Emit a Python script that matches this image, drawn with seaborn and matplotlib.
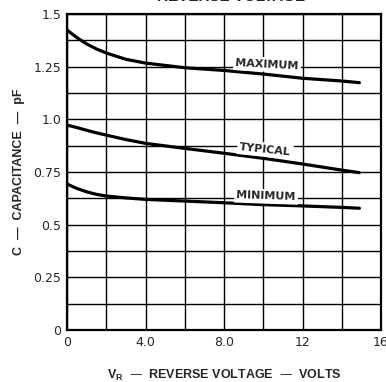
import numpy as np
import pandas as pd
import matplotlib
matplotlib.use("Agg")
import matplotlib.pyplot as plt
import seaborn as sns

# ---- data ----
voltage = [0, 0.5, 1, 1.5, 2, 3, 4, 6, 8, 10, 12, 14, 14.9]
cap_max = [1.424, 1.388, 1.358, 1.334, 1.315, 1.285, 1.267, 1.245, 1.232, 1.215, 1.195, 1.182, 1.174]
cap_typ = [0.973, 0.961, 0.948, 0.936, 0.925, 0.904, 0.886, 0.862, 0.839, 0.815, 0.788, 0.759, 0.747]
cap_min = [0.693, 0.672, 0.656, 0.644, 0.636, 0.627, 0.620, 0.612, 0.604, 0.595, 0.589, 0.582, 0.578]
series_names = ["MAXIMUM", "TYPICAL", "MINIMUM"]

x_ticks = [0, 4, 8, 12, 16]
x_ticklabels = ["0", "4.0", "8.0", "12", "16"]
y_ticks = [0, 0.25, 0.5, 0.75, 1.0, 1.25, 1.5]
y_ticklabels = ["0", "0.25", "0.5", "0.75", "1.0", "1.25", "1.5"]

df = pd.DataFrame({
    "V": voltage * 3,
    "C": cap_max + cap_typ + cap_min,
    "curve": [series_names[0]] * len(voltage) + [series_names[1]] * len(voltage)
             + [series_names[2]] * len(voltage),
})

sns.set_style("white")
plt.rcParams["font.family"] = ["Liberation Sans", "DejaVu Sans"]

fig = plt.figure(figsize=(3.86, 3.82), dpi=100)
ax = fig.add_axes([67 / 386, 1 - 330 / 382, (381 - 67) / 386, (330 - 14) / 382])

sns.lineplot(data=df, x="V", y="C", units="curve", estimator=None,
             color="black", linewidth=2.3, ax=ax, legend=False, zorder=3)

ax.set_xlim(0, 16)
ax.set_ylim(0, 1.5)
ax.set_xticks(np.arange(0, 16.01, 2), minor=True)
ax.set_yticks(np.arange(0, 1.501, 0.125), minor=True)
ax.set_xticks(x_ticks)
ax.set_xticklabels(x_ticklabels)
ax.set_yticks(y_ticks)
ax.set_yticklabels(y_ticklabels)
ax.grid(True, which="both", color="black", linewidth=1.0, zorder=1)
ax.set_axisbelow(True)
ax.tick_params(axis="both", which="both", length=0, labelsize=9, pad=4)
for t in ax.get_xticklabels() + ax.get_yticklabels():
    t.set_fontfamily("DejaVu Sans")
for s in ax.spines.values():
    s.set_color("black")
    s.set_linewidth(1.6)

ax.set_xlabel(r"V$_\mathregular{R}$  —  REVERSE VOLTAGE  —  VOLTS",
              fontsize=9, fontweight="bold", labelpad=14)
ax.set_ylabel("C  —  CAPACITANCE  —  pF", fontsize=9, fontweight="bold",
              labelpad=6)

label_pos = {"MAXIMUM": (10.2, 1.26, -3), "TYPICAL": (10.1, 0.856, -6),
             "MINIMUM": (10.15, 0.634, -2)}
for name in series_names:
    lx, ly, rot = label_pos[name]
    ax.text(lx, ly, name, fontsize=8, fontweight="bold", ha="center",
            va="center", rotation=rot, zorder=4, family="DejaVu Sans",
            bbox=dict(boxstyle="square,pad=0.2", fc="white", ec="none"))

fig.text(305 / 386, 1 - 1.3 / 382, "REVERSE VOLTAGE", ha="right", va="baseline",
         fontsize=11, fontweight="bold")

fig.savefig("out.png", dpi=100, facecolor="white")
